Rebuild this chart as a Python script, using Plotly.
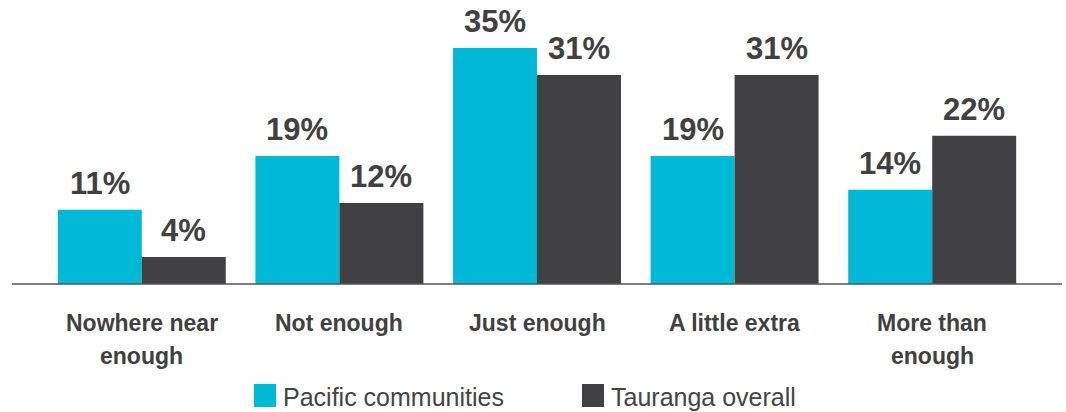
import plotly.graph_objects as go

categories = ["Nowhere near\nenough", "Not enough", "Just enough", "A little extra", "More than\nenough"]
series_names = ["Pacific communities", "Tauranga overall"]
pacific = [11, 19, 35, 19, 14]
tauranga = [4, 12, 31, 31, 22]
colors = ["#00B9D6", "#414042"]

W, H = 1066, 412
L, R, T, B = 43, 35, 10, 128
PW, PH = W - L - R, H - T - B
TXT = "#404041"
FONT = "Liberation Sans, Arial, Helvetica, sans-serif"

fig = go.Figure()
for name, vals, col in zip(series_names, [pacific, tauranga], colors):
    fig.add_trace(go.Bar(x=list(range(len(categories))), y=vals, name=name,
                         marker=dict(color=col, line=dict(width=0)),
                         showlegend=False))

annotations = []
bar_px = PW / len(categories) * (1 - 0.15) / 2
for si, vals in enumerate([pacific, tauranga]):
    off = (-0.5 if si == 0 else 0.5) * bar_px
    for i, v in enumerate(vals):
        annotations.append(dict(x=i, y=v, xref="x", yref="y", text=f"<b>{v}%</b>",
                                showarrow=False, xshift=off, yanchor="bottom", yshift=7,
                                font=dict(family=FONT, size=31, color=TXT)))

for i, c in enumerate(categories):
    for li, line in enumerate(c.split("\n")):
        annotations.append(dict(x=i, y=0, xref="x", yref="paper", text=f"<b>{line}</b>",
                                showarrow=False, yanchor="middle", yshift=-39 - 33 * li,
                                font=dict(family=FONT, size=23, color=TXT)))

shapes = [dict(type="line", xref="paper", yref="paper",
               x0=(12 - L) / PW, x1=(1062 - L) / PW, y0=0, y1=0,
               line=dict(color="#555555", width=1.5))]

leg_x = [254, 582]
for name, col, lx in zip(series_names, colors, leg_x):
    shapes.append(dict(type="rect", xref="paper", yref="paper",
                       x0=(lx - L) / PW, x1=(lx + 22 - L) / PW,
                       y0=(T + PH - 407) / PH, y1=(T + PH - 384) / PH,
                       fillcolor=col, line=dict(width=0)))
    annotations.append(dict(x=(lx + 27 - L) / PW, y=(T + PH - 397) / PH, xref="paper", yref="paper",
                            text=name, showarrow=False, xanchor="left", yanchor="middle",
                            font=dict(family=FONT, size=25, color="#444444")))

fig.update_layout(
    width=W, height=H, barmode="group", bargap=0.15, bargroupgap=0,
    margin=dict(l=L, r=R, t=T, b=B, pad=0),
    paper_bgcolor="white", plot_bgcolor="white",
    xaxis=dict(range=[-0.5, len(categories) - 0.5], showticklabels=False, showgrid=False,
               zeroline=False, showline=False, ticks="", fixedrange=True),
    yaxis=dict(range=[0, PH / 6.74], visible=False, showgrid=False, zeroline=False, fixedrange=True),
    annotations=annotations, shapes=shapes, showlegend=False,
)
fig.write_html("out.html", config={"displayModeBar": False},
               post_script="document.body.style.margin='0';document.body.style.overflow='hidden';")
